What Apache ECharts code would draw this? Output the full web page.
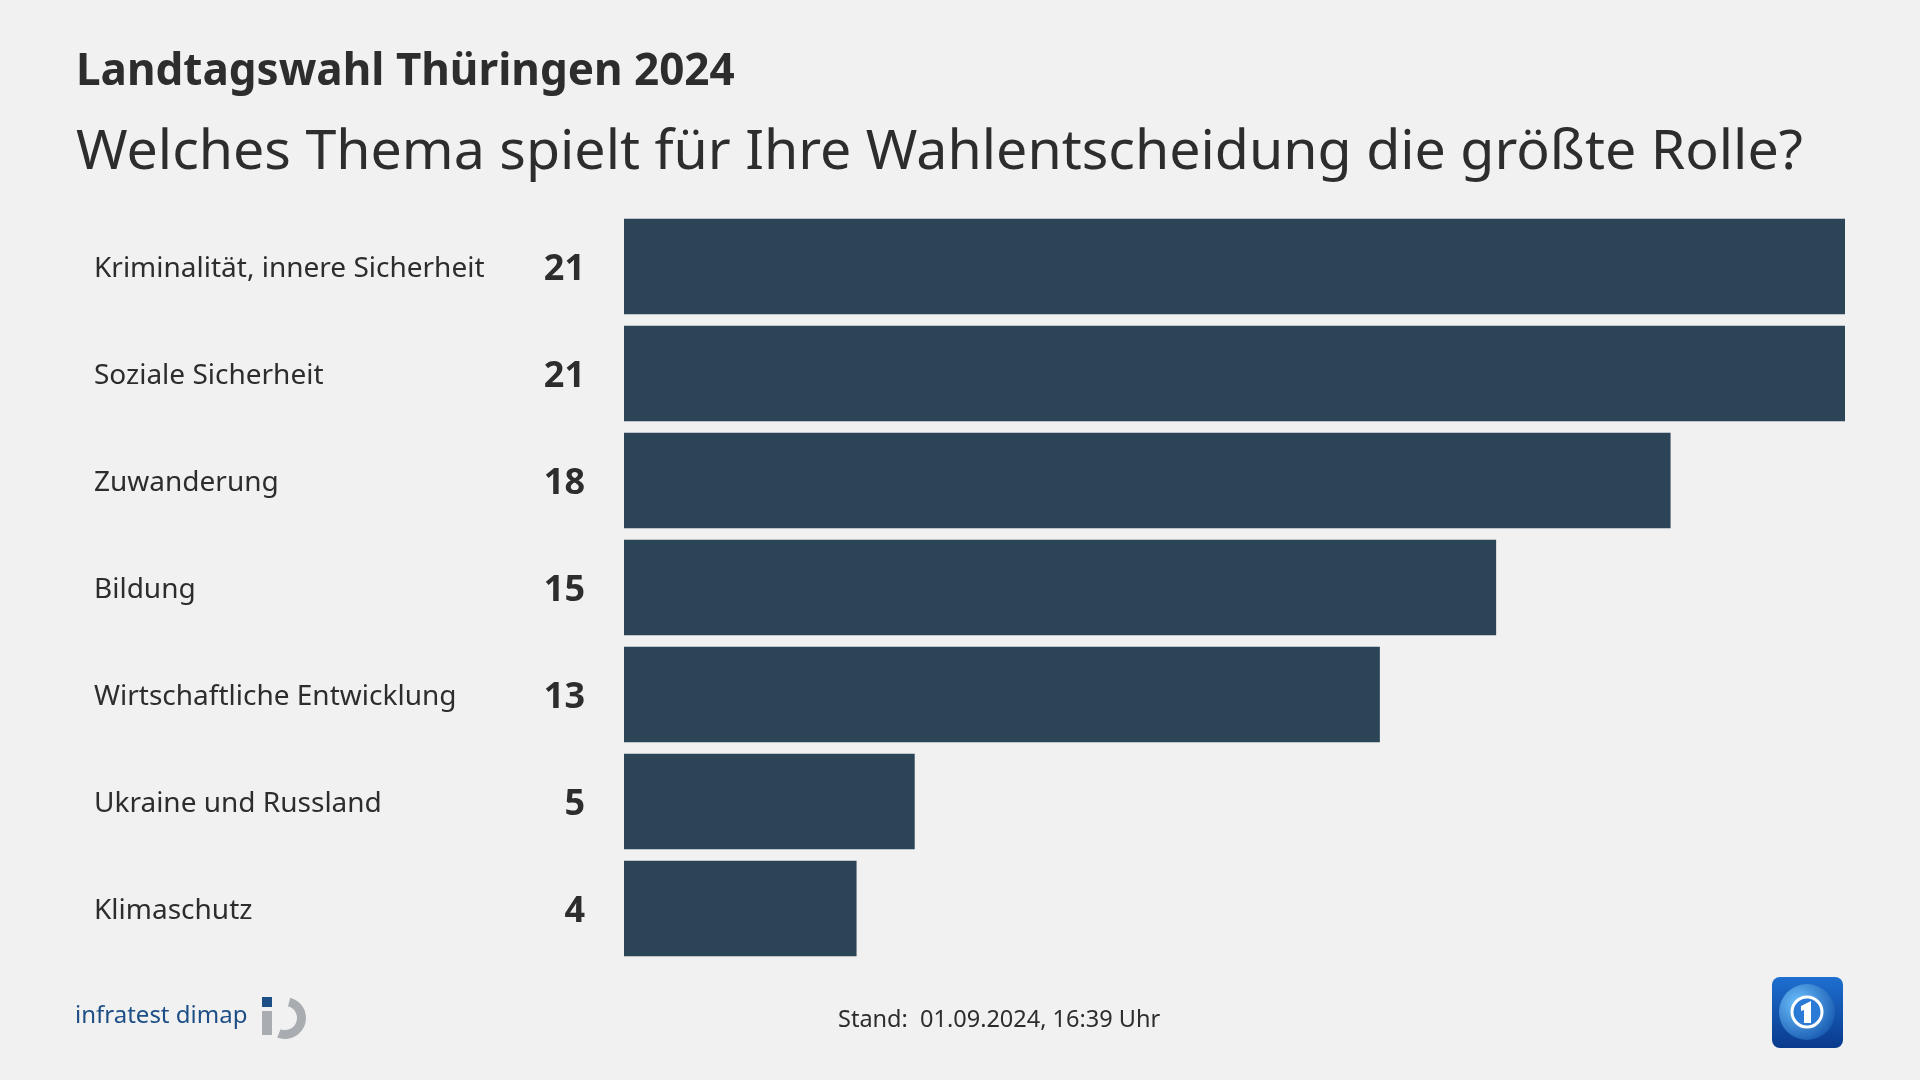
<!DOCTYPE html>
<html>
<head>
<meta charset="utf-8">
<script src="https://cdn.jsdelivr.net/npm/echarts@6/dist/echarts.min.js"></script>
<style>
html,body{margin:0;padding:0;background:#f1f1f1;}
#c{width:1920px;height:1080px;}
</style>
</head>
<body>
<div id="c"></div>
<script>
const categories = [
  'Kriminalität, innere Sicherheit',
  'Soziale Sicherheit',
  'Zuwanderung',
  'Bildung',
  'Wirtschaftliche Entwicklung',
  'Ukraine und Russland',
  'Klimaschutz'
];
const values = [21, 21, 18, 15, 13, 5, 4];
const titleText = 'Landtagswahl Thüringen 2024';
const subtitleText = 'Welches Thema spielt für Ihre Wahlentscheidung die größte Rolle?';
const footerText = 'Stand:  01.09.2024, 16:39 Uhr';

const FONT = '"Noto Sans", sans-serif';
const chart = echarts.init(document.getElementById('c'));
chart.setOption({
  backgroundColor: '#f1f1f1',
  animation: false,
  textStyle: { fontFamily: FONT },
  title: [
    { text: titleText, left: 71, top: 45.5,
      textStyle: { fontFamily: FONT, fontWeight: 'bold', fontSize: 44, color: '#2d2d2d' } },
    { text: subtitleText, left: 71, top: 120.5,
      textStyle: { fontFamily: FONT, fontWeight: 'normal', fontSize: 55.5, color: '#2d2d2d' } },
    { text: footerText, left: 833, top: 1003.5,
      textStyle: { fontFamily: FONT, fontWeight: 'normal', fontSize: 23.5, color: '#2d2d2d' } }
  ],
  grid: { left: 624, right: 75, top: 213, height: 749, containLabel: false },
  xAxis: { type: 'value', min: 0, max: 21, show: false },
  yAxis: {
    type: 'category', data: categories, inverse: true,
    axisLine: { show: false }, axisTick: { show: false },
    axisLabel: { align: 'left', margin: 530, fontSize: 28, color: '#2d2d2d', fontFamily: FONT,
      verticalAlign: 'top', lineHeight: 6 }
  },
  series: [{
    type: 'bar', data: values, barCategoryGap: '10.7%',
    itemStyle: { color: '#2b4557' },
    label: { show: true, position: 'left', distance: 39, fontSize: 36, fontWeight: 'bold',
      color: '#2d2d2d', fontFamily: FONT, offset: [0, 3] }
  }],
  graphic: [
    { type: 'text', left: 75, top: 1004,
      style: { text: 'infratest dimap', fontSize: 24, fontFamily: FONT, fill: '#1d4f86' } },
    { type: 'rect', shape: { x: 262, y: 997, width: 10, height: 10 }, style: { fill: '#1d4f86' } },
    { type: 'rect', shape: { x: 262, y: 1011, width: 10, height: 24 }, style: { fill: '#a9adb1' } },
    { type: 'sector', shape: { cx: 285, cy: 1018, r: 21, r0: 12, startAngle: -Math.PI * 0.42, endAngle: Math.PI * 0.62, clockwise: true },
      style: { fill: '#a9adb1' } },
    { type: 'rect', shape: { x: 1772, y: 977, width: 71, height: 71, r: 8 },
      style: { fill: new echarts.graphic.LinearGradient(0, 0, 0, 1, [{ offset: 0, color: '#1d6fd0' }, { offset: 1, color: '#0a3a8c' }]) } },
    { type: 'circle', shape: { cx: 1807, cy: 1012, r: 28 },
      style: { fill: new echarts.graphic.RadialGradient(0.35, 0.35, 0.8, [{ offset: 0, color: '#6fc3ff' }, { offset: 1, color: '#0f4fa8' }]) } },
    { type: 'circle', shape: { cx: 1807, cy: 1012, r: 15 },
      style: { fill: '#2a7ad6', stroke: '#ffffff', lineWidth: 3 } },
    { type: 'polygon', shape: { points: [[1801, 1006], [1811, 1001], [1811, 1023], [1804, 1023], [1804, 1010], [1801, 1011]] },
      style: { fill: '#ffffff' } }
  ]
});
</script>
</body>
</html>
